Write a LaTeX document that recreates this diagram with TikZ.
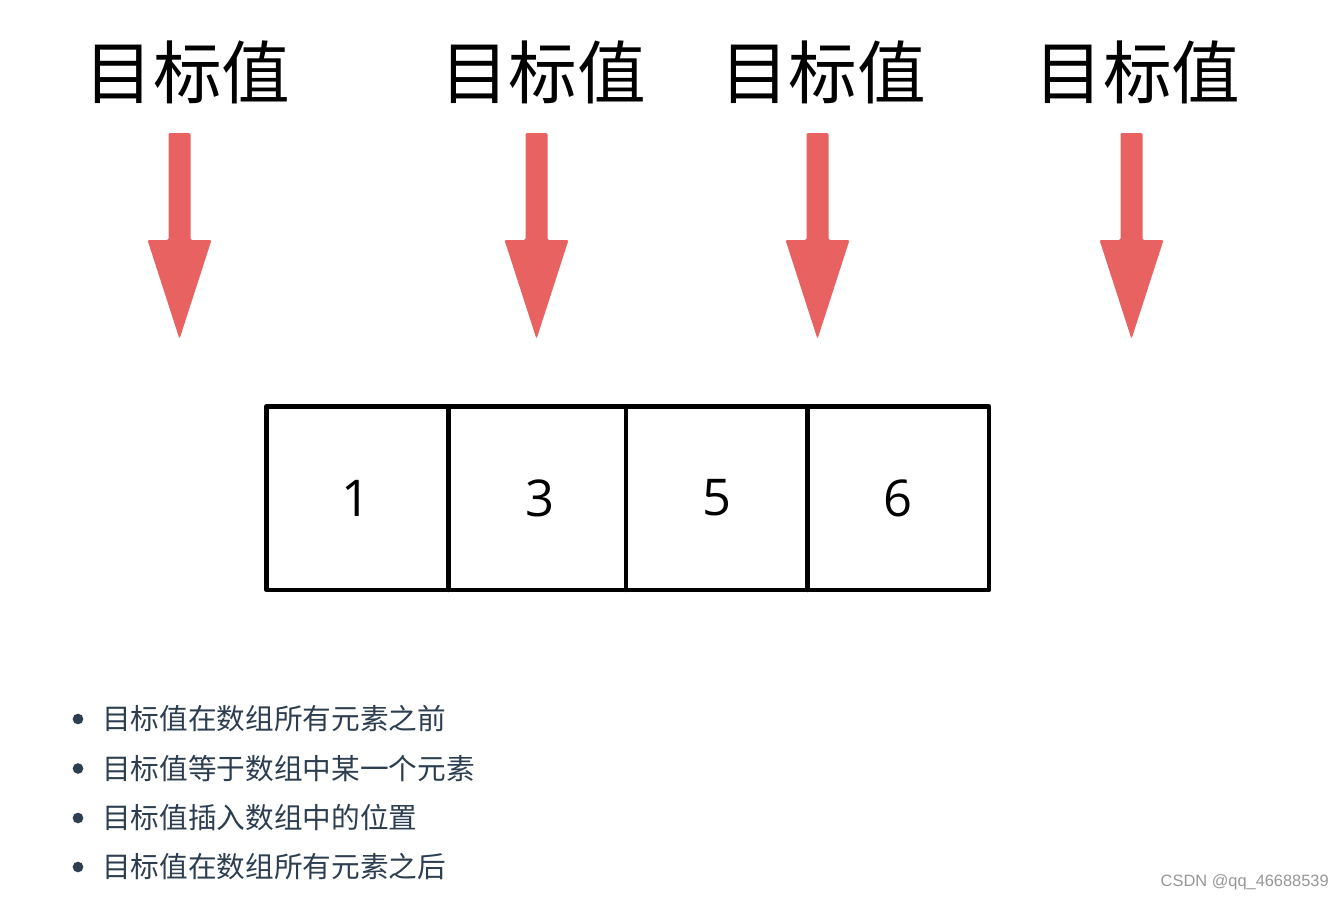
\documentclass[tikz,border=0pt]{standalone}
\usepackage{fontspec}
\newfontfamily\cjk{Noto Sans CJK SC}
\newfontfamily\digitfont{Open Sans}
\newfontfamily\wmfont{Liberation Sans}
\definecolor{arrowred}{RGB}{232,98,98}
\definecolor{bullettext}{RGB}{44,62,80}
\definecolor{wmgray}{RGB}{150,150,150}
\tikzset{
  titlelabel/.style={font=\cjk\fontsize{51.5}{56}\selectfont, text=black, inner sep=0pt},
  numlabel/.style={font=\digitfont\fontsize{38}{44}\selectfont, text=black, inner sep=0pt},
  bulletlabel/.style={font=\cjk\fontsize{21.5}{26}\selectfont, text=bullettext, inner sep=0pt, anchor=west},
  bulletdot/.style={circle, fill=bullettext, minimum size=8pt, inner sep=0pt},
  gridline/.style={line width=3.2pt, line cap=round, line join=round},
  blockarrow/.style={fill=arrowred, rounded corners=1pt},
}
\begin{document}
\begin{tikzpicture}[x=0.75pt, y=-0.75pt]
\useasboundingbox (0,0) rectangle (1344,899);
% titles
\node[titlelabel] (t1) at (187.5,72) {目标值};
\node[titlelabel] (t2) at (543,72) {目标值};
\node[titlelabel] (t3) at (823,72) {目标值};
\node[titlelabel] (t4) at (1137.5,72) {目标值};
% block arrows
\foreach \cx in {179.5,536.5,817.5,1131.5}{
  \fill[blockarrow] (\cx-11,133) -- (\cx+11,133) -- (\cx+11,240) -- (\cx+32,240)
     -- (\cx,339) -- (\cx-32,240) -- (\cx-11,240) -- cycle;
}
% array cells
\coordinate (bl) at (266.5,590);
\coordinate (tr) at (989,406.5);
\draw[gridline] (bl) rectangle (tr);
\draw[gridline] (448.5,406.5) -- (448.5,590);
\draw[gridline] (626,406.5) -- (626,590);
\draw[gridline] (807.5,406.5) -- (807.5,590);
\node[numlabel] (c1) at (356,498) {1};
\node[numlabel] (c2) at (539.5,498) {3};
\node[numlabel] (c3) at (716.75,498) {5};
\node[numlabel] (c4) at (898,498) {6};
% bullet list
\node[bulletdot] (d1) at (78,719) {};
\node[bulletdot] (d2) at (78,768.5) {};
\node[bulletdot] (d3) at (78,818) {};
\node[bulletdot] (d4) at (78,867) {};
\node[bulletlabel] (b1) at (102,719) {目标值在数组所有元素之前};
\node[bulletlabel] (b2) at (102,768.5) {目标值等于数组中某一个元素};
\node[bulletlabel] (b3) at (102,818) {目标值插入数组中的位置};
\node[bulletlabel] (b4) at (102,867) {目标值在数组所有元素之后};
% watermark
\node[font=\wmfont\fontsize{12.3}{14}\selectfont, text=wmgray, inner sep=0pt, anchor=east] (wm) at (1329,882) {CSDN @qq\_46688539};
\end{tikzpicture}
\end{document}
